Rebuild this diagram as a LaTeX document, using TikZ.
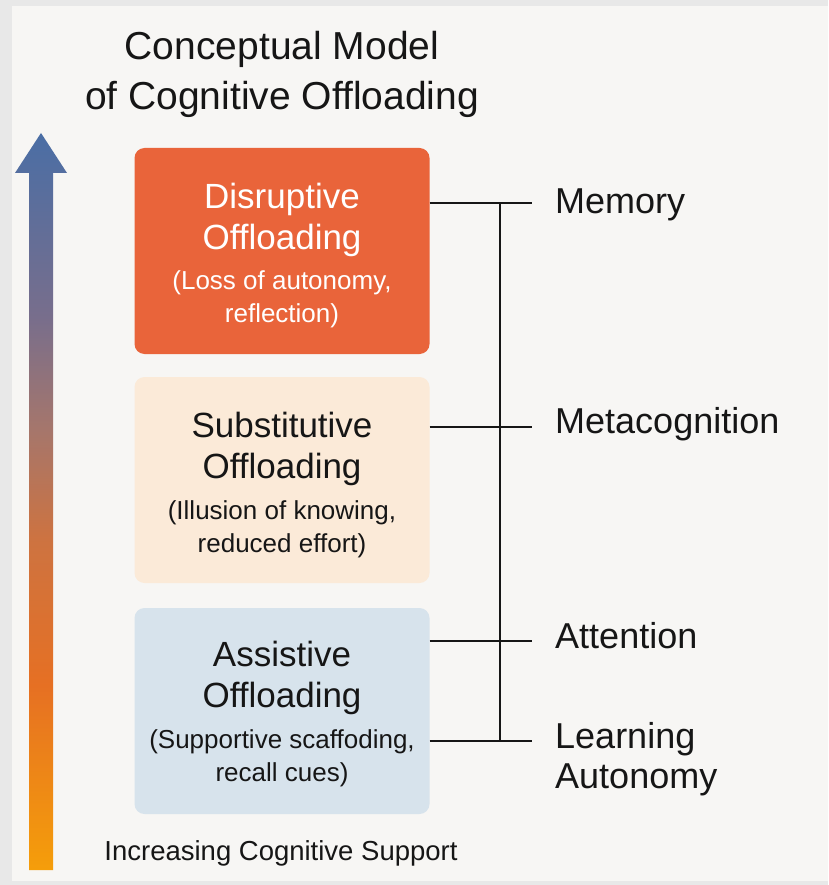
\documentclass[tikz,border=0pt]{standalone}
\usepackage{fontspec}
\setmainfont{Liberation Sans}
\usetikzlibrary{calc}

\definecolor{pagecol}{RGB}{247,246,244}
\definecolor{stripcol}{RGB}{232,232,232}
\definecolor{disrcol}{RGB}{233,100,58}
\definecolor{substcol}{RGB}{251,234,216}
\definecolor{assistcol}{RGB}{215,227,236}
\definecolor{inkcol}{RGB}{22,22,22}
\definecolor{rampA}{RGB}{245,158,10}
\definecolor{rampB}{RGB}{230,112,35}
\definecolor{rampC}{RGB}{205,115,65}
\definecolor{rampD}{RGB}{165,118,108}
\definecolor{rampE}{RGB}{120,110,140}
\definecolor{rampF}{RGB}{74,110,165}

% colour ramp of the support arrow (bottom = 25bp, top = 75bp)
\pgfdeclareverticalshading{supportramp}{100bp}{%
  color(0bp)=(rampA); color(25bp)=(rampA);
  color(37.5bp)=(rampB); color(47.5bp)=(rampC);
  color(55bp)=(rampD); color(62.5bp)=(rampE);
  color(75bp)=(rampF); color(100bp)=(rampF)}

\tikzset{
  tier/.style={rounded corners=10pt, minimum width=295pt, minimum height=206pt, inner sep=0pt},
  tierhead/.style={align=center, inner sep=0pt, font=\fontsize{35}{41}\selectfont},
  tiersub/.style={align=center, inner sep=0pt, font=\fontsize{26}{33}\selectfont},
  facet/.style={anchor=west, align=left, inner sep=0pt, text=inkcol, font=\fontsize{36}{40}\selectfont},
  link/.style={line width=2pt, inkcol}
}

\begin{document}
\begin{tikzpicture}[x=1pt,y=-1pt]
      \useasboundingbox (0,0) rectangle (828,885);
      \fill[stripcol] (0,0) rectangle (828,885);
      \fill[pagecol] (12,6) rectangle (828,881);

      % title
      \node[align=center, text=inkcol, font=\fontsize{39}{50}\selectfont] (title) at (282,74) {Conceptual Model\\of Cognitive Offloading};

      % support arrow
      \shade[shading=supportramp]
        (29,870) -- (29,173) -- (15,173) -- (41,133) -- (67,173) -- (53,173) -- (53,870) -- cycle;
      \node[text=inkcol, font=\fontsize{27.5}{30}\selectfont] (support) at (281,853) {Increasing Cognitive Support};

      % the three tiers
      \node[tier, fill=disrcol] (disr) at (282,251) {};
      \node[tierhead, text=white] (disrh) at (282,220) {Disruptive\\Offloading};
      \node[tiersub, text=white] (disrs) at (282,299) {(Loss of autonomy,\\reflection)};

      \node[tier, fill=substcol] (subst) at (282,480) {};
      \node[tierhead, text=inkcol] (substh) at (282,449) {Substitutive\\Offloading};
      \node[tiersub, text=inkcol] (substs) at (282,529) {(Illusion of knowing,\\reduced effort)};

      \node[tier, fill=assistcol] (assist) at (282,711) {};
      \node[tierhead, text=inkcol] (assisth) at (282,678) {Assistive\\Offloading};
      \node[tiersub, text=inkcol] (assists) at (282,758) {(Supportive scaffoding,\\recall cues)};

      % cognitive facets
      \node[facet] (mem) at (555,205) {Memory};
      \node[facet] (meta) at (555,424) {Metacognition};
      \node[facet] (attn) at (555,636) {Attention};
      \node[facet] (auto) at (555,759) {Learning\\Autonomy};

      \coordinate (spinetop) at (500,203);
      \coordinate (spinebot) at (500,741);
      \draw[link] (spinetop) -- (spinebot);
      \draw[link] (disr.east |- spinetop) -- ([xshift=-23pt]mem.west |- spinetop);
      \draw[link] (subst.east |- 0,427) -- ([xshift=-23pt]meta.west |- 0,427);
      \draw[link] (assist.east |- 0,641) -- ([xshift=-23pt]attn.west |- 0,641);
      \draw[link] (assist.east |- spinebot) -- ([xshift=-23pt]auto.west |- spinebot);
\end{tikzpicture}
\end{document}
